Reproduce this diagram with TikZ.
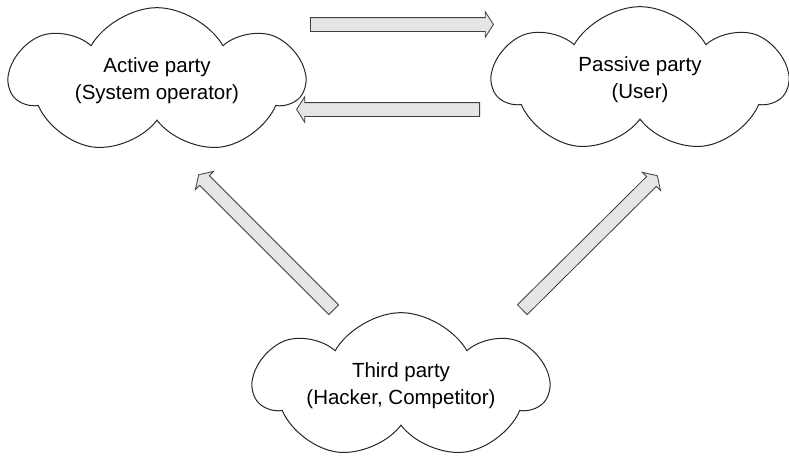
\documentclass[tikz,border=0pt]{standalone}
\usepackage{fontspec}
\setmainfont{Liberation Sans}
\usetikzlibrary{shapes.symbols,shapes.arrows,calc}

\begin{document}
\begin{tikzpicture}[x=0.3mm, y=-0.3mm,
  party/.style={cloud, cloud puffs=7, cloud puff arc=120, cloud ignores aspect,
                draw=black!85, line width=0.3mm, align=center,
                font=\fontsize{17.5}{23}\selectfont, minimum width=88mm, minimum height=44mm, inner sep=0pt},
  arrowbox/.style={single arrow, draw=black!75, line width=0.25mm, fill=black!10,
                   inner xsep=0pt, inner ysep=1.95mm, single arrow head extend=1.8mm, single arrow tip angle=115},
  flow/.style={to path={let \p1=($(\tikztotarget)-(\tikztostart)$), \n1={veclen(\x1,\y1)}, \n2={atan2(\y1,\x1)} in
               node[arrowbox, minimum height=\n1, rotate=\n2, anchor=tail] at (\tikztostart) {} (\tikztotarget)}}
]
\useasboundingbox (0,0) rectangle (789,465);
\node[party] (active)  at (157,81)  {Active party\\(System operator)};
\node[party] (passive) at (640,80)  {Passive party\\(User)};
\node[party] (third)   at (401,386) {Third party\\(Hacker, Competitor)};
\coordinate (act-out)   at (310,24.5);
\coordinate (pas-in)    at (493,24.5);
\coordinate (pas-out)   at (480,109.5);
\coordinate (act-in)    at (297,109.5);
\coordinate (thirdl-out) at (334,310);
\coordinate (act-in2)   at (199,175);
\coordinate (thirdr-out) at (522,310);
\coordinate (pas-in2)   at (657,176);
\path[flow] (act-out) to (pas-in);
\path[flow] (pas-out) to (act-in);
\path[flow] (thirdl-out) to (act-in2);
\path[flow] (thirdr-out) to (pas-in2);
\end{tikzpicture}
\end{document}
